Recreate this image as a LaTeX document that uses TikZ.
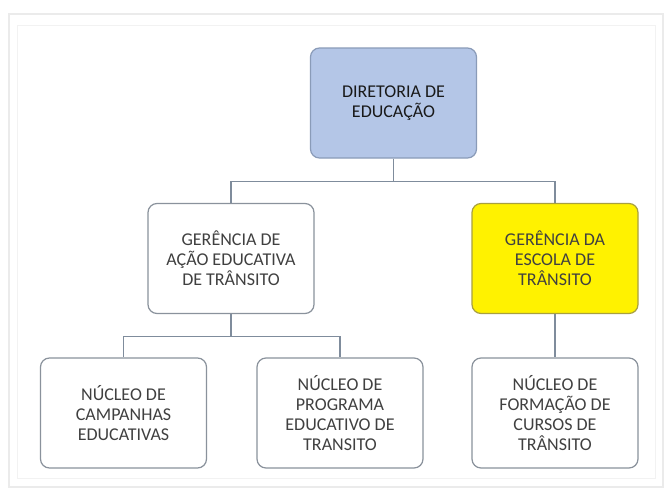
\documentclass[tikz,border=0pt]{standalone}
\usepackage{fontspec}
\setmainfont{Carlito}
\definecolor{topfill}{HTML}{B4C6E7}
\definecolor{topdraw}{HTML}{8A9BB8}
\definecolor{boxdraw}{HTML}{8A929C}
\definecolor{ydraw}{HTML}{A8A040}
\definecolor{linec}{HTML}{7F8C9C}
\definecolor{txt}{HTML}{404040}
\tikzset{
  orgbox/.style={draw=boxdraw, fill=white, line width=1.2pt, rounded corners=9pt,
    minimum width=166pt, minimum height=110pt, align=center, text=txt,
    font=\fontsize{18}{20}\selectfont, inner sep=2pt},
  topbox/.style={orgbox, fill=topfill, draw=topdraw, text=black!90},
  yelbox/.style={orgbox, fill=yellow, draw=ydraw, text=txt},
  conn/.style={draw=linec, line width=1.2pt}
}
\begin{document}
\begin{tikzpicture}[x=1pt,y=-1pt]
\useasboundingbox (0,0) rectangle (664,490);
\fill[white] (0,0) rectangle (664,490);
\draw[black!8, line width=2pt] (9,14) rectangle (663,487);
\draw[black!5, line width=1pt] (17,25) rectangle (655,478);

\node[topbox] (top) at (393.5,103) {DIRETORIA DE\\EDUCAÇÃO};
\node[orgbox] (midL) at (231,258.5) {GERÊNCIA DE\\AÇÃO EDUCATIVA\\DE TRÂNSITO};
\node[yelbox] (midR) at (555,258.5) {GERÊNCIA DA\\ESCOLA DE\\TRÂNSITO};
\node[orgbox] (botL) at (123.5,413) {NÚCLEO DE\\CAMPANHAS\\EDUCATIVAS};
\node[orgbox] (botM) at (340,413) {NÚCLEO DE\\PROGRAMA\\EDUCATIVO DE\\TRANSITO};
\node[orgbox] (botR) at (555,413) {NÚCLEO DE\\FORMAÇÃO DE\\CURSOS DE\\TRÂNSITO};

\coordinate (bus1) at ([yshift=-23pt]top.south);
\coordinate (bus2) at ([yshift=-22pt]midL.south);
\draw[conn] (top.south) -- (bus1) -| (midL.north);
\draw[conn] (bus1) -| (midR.north);
\draw[conn] (midL.south) -- (bus2) -| (botL.north);
\draw[conn] (bus2) -| (botM.north);
\draw[conn] (midR.south) -- (botR.north);
\end{tikzpicture}
\end{document}
